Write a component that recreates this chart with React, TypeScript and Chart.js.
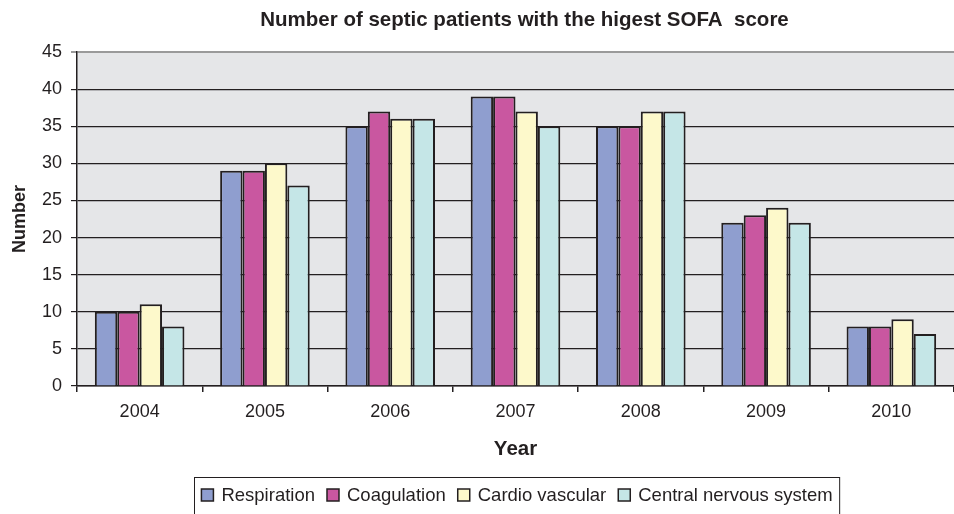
import React, { useEffect, useRef } from "react";
import { Chart, registerables } from "chart.js";

Chart.register(...registerables);

const years = ["2004", "2005", "2006", "2007", "2008", "2009", "2010"];
const respiration = [10, 29, 35, 39, 35, 22, 8];
const coagulation = [10, 29, 37, 39, 35, 23, 8];
const cardioVascular = [11, 30, 36, 37, 37, 24, 9];
const centralNervous = [8, 27, 36, 35, 37, 22, 7];
const seriesNames = ["Respiration", "Coagulation", "Cardio vascular", "Central nervous system"];
const seriesColors = ["#8f9ecf", "#c957a0", "#fdf9cb", "#c5e6e7"];
const chartTitle = "Number of septic patients with the higest SOFA  score";

const FONT = "'Liberation Sans', Arial, Helvetica, sans-serif";
const DARK = "#231f20";

const bgPlugin = {
  id: "plotBg",
  beforeDraw(chart: any) {
    const { ctx, chartArea } = chart;
    ctx.save();
    ctx.fillStyle = "#e5e6e8";
    ctx.fillRect(chartArea.left, chartArea.top, chartArea.right - chartArea.left, chartArea.bottom - chartArea.top);
    ctx.restore();
  },
  afterDraw(chart: any) {
    const { ctx, chartArea } = chart;
    ctx.save();
    // title
    ctx.fillStyle = DARK;
    ctx.font = `bold 20.5px ${FONT}`;
    ctx.textAlign = "center";
    ctx.textBaseline = "middle";
    ctx.fillText(chartTitle, (chartArea.left + chartArea.right) / 2 + 9, 20);
    // legend
    ctx.font = `18.5px ${FONT}`;
    ctx.textAlign = "left";
    const box = 12;
    const gapAfterBox = 8;
    const gapItems = 12;
    const ds = chart.data.datasets;
    let total = 0;
    const widths = ds.map((d: any) => ctx.measureText(d.label).width);
    widths.forEach((w: number) => (total += box + gapAfterBox + w));
    total += gapItems * (ds.length - 1);
    const cx = 517;
    const cy = 495;
    let x = cx - total / 2;
    ctx.strokeStyle = DARK;
    ctx.lineWidth = 1;
    ctx.strokeRect(Math.round(x - 7) + 0.5, 477.5, total + 14, 40);
    ds.forEach((d: any, i: number) => {
      ctx.fillStyle = d.backgroundColor;
      ctx.fillRect(x, cy - box / 2, box, box);
      ctx.lineWidth = 1.5;
      ctx.strokeStyle = DARK;
      ctx.strokeRect(x, cy - box / 2, box, box);
      ctx.fillStyle = DARK;
      ctx.fillText(d.label, x + box + gapAfterBox, cy + 1);
      x += box + gapAfterBox + widths[i] + gapItems;
    });
    ctx.restore();
  },
};

export default function App() {
  const ref = useRef<HTMLCanvasElement>(null);
  useEffect(() => {
    document.body.style.margin = "0";
    const series = [respiration, coagulation, cardioVascular, centralNervous];
    const chart = new Chart(ref.current!, {
      type: "bar",
      data: {
        labels: years,
        datasets: series.map((s, i) => ({
          label: seriesNames[i],
          data: s,
          backgroundColor: seriesColors[i],
          borderColor: DARK,
          borderWidth: 2,
          barPercentage: 1,
          categoryPercentage: 0.715,
        })),
      },
      options: {
        responsive: false,
        animation: false,
        layout: { padding: { top: 52, right: 0, bottom: 52, left: 0 } },
        plugins: {
          legend: { display: false },
          title: { display: false },
          tooltip: { enabled: false },
        },
        scales: {
          x: {
            afterFit: (s: any) => {
              s.height = 76;
            },
            grid: {
              offset: true,
              drawOnChartArea: false,
              drawTicks: true,
              tickLength: 6,
              color: DARK,
              lineWidth: 1.5,
            },
            border: { color: DARK, width: 1.5 },
            ticks: { color: DARK, font: { family: FONT, size: 18 }, padding: 9 },
            title: {
              display: true,
              text: "Year",
              color: DARK,
              font: { family: FONT, size: 20.5, weight: "bold" },
              padding: { top: 4, bottom: 0 },
            },
          },
          y: {
            min: 0,
            max: 45,
            afterFit: (s: any) => {
              s.width = 77;
            },
            grid: {
              color: (c: any) => (c.tick && c.tick.value === 45 ? "#9a9a9a" : DARK),
              lineWidth: (c: any) => (c.tick && c.tick.value === 45 ? 2 : 1.2),
              tickLength: 6,
              drawTicks: true,
            },
            border: { color: DARK, width: 1.5 },
            ticks: { stepSize: 5, color: DARK, font: { family: FONT, size: 18 }, padding: 9 },
            title: {
              display: true,
              text: "Number",
              color: DARK,
              font: { family: FONT, size: 18, weight: "bold" },
              padding: { top: 9, bottom: 4 },
            },
          },
        },
      },
      plugins: [bgPlugin],
    });
    return () => chart.destroy();
  }, []);
  return (
    <div style={{ width: 954, height: 514 }}>
      <canvas ref={ref} width={954} height={514} />
    </div>
  );
}
